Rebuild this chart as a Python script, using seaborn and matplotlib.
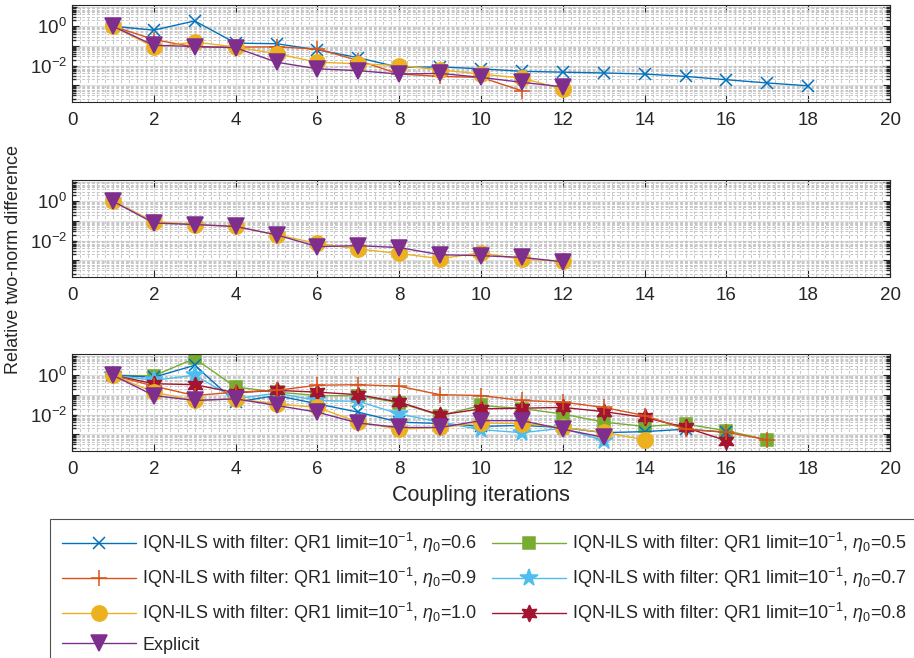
import matplotlib
matplotlib.use("Agg")
import matplotlib.pyplot as plt
import matplotlib.ticker as mticker
import numpy as np
import pandas as pd
import seaborn as sns

sns.set_theme(style="ticks")
plt.rcParams["font.family"] = ["Liberation Sans", "DejaVu Sans"]
plt.rcParams["mathtext.fontset"] = "custom"
plt.rcParams["mathtext.rm"] = "Liberation Sans"
plt.rcParams["mathtext.it"] = "Liberation Sans:italic"

# ---- data (relative two-norm difference per iteration) ----
top_eta06 = [1.0, 0.63, 1.86, 0.138, 0.129, 0.063, 0.025, 0.0081, 0.0085, 0.0068,
             0.0051, 0.0046, 0.0042, 0.0037, 0.0028, 0.0019, 0.0013, 0.00093]
top_eta09 = [1.0, 0.21, 0.087, 0.087, 0.089, 0.069, 0.018, 0.0037, 0.0028, 0.0025, 0.00052]
top_eta10 = [1.0, 0.087, 0.158, 0.087, 0.040, 0.0148, 0.0123, 0.010, 0.0060, 0.0037,
             0.0023, 0.00063]
top_explicit = [1.0, 0.107, 0.093, 0.081, 0.0148, 0.0068, 0.0055, 0.0037, 0.0040, 0.0025,
                0.0014, 0.00083]

mid_eta10 = [1.0, 0.093, 0.065, 0.052, 0.0195, 0.0072, 0.0037, 0.0022, 0.0012, 0.0024,
             0.0011, 0.00091]
mid_explicit = [1.0, 0.078, 0.065, 0.052, 0.0195, 0.0049, 0.0055, 0.0044, 0.0019, 0.0017,
                0.0014, 0.00083]

bot_eta05 = [1.0, 0.93, 7.1, 0.25, 0.138, 0.093, 0.089, 0.040, 0.0089, 0.029, 0.020,
             0.0107, 0.0041, 0.0025, 0.0033, 0.0015, 0.00052]
bot_eta06 = [1.0, 0.79, 3.2, 0.043, 0.093, 0.035, 0.0132, 0.0041, 0.0035, 0.0025, 0.0028,
             0.0022, 0.0012, 0.00135, 0.0018, 0.00126]
bot_eta07 = [1.0, 0.55, 1.0, 0.063, 0.123, 0.052, 0.047, 0.0107, 0.0041, 0.0017, 0.0012,
             0.0020, 0.00047]
bot_eta08 = [1.0, 0.37, 0.33, 0.129, 0.17, 0.138, 0.102, 0.043, 0.0095, 0.0195, 0.021,
             0.023, 0.0141, 0.0072, 0.0022, 0.00047]
bot_eta09 = [1.0, 0.28, 0.093, 0.138, 0.17, 0.31, 0.33, 0.275, 0.102, 0.093, 0.052, 0.043,
             0.023, 0.0089, 0.0018, 0.00126, 0.00052]
bot_eta10 = [1.0, 0.138, 0.052, 0.063, 0.035, 0.023, 0.0041, 0.0018, 0.0022, 0.0037,
             0.0035, 0.0022, 0.00126, 0.00052]
bot_explicit = [1.0, 0.093, 0.052, 0.063, 0.029, 0.0132, 0.0037, 0.0022, 0.0022, 0.0049,
                0.0049, 0.0018, 0.00069]

x_ticks = list(range(0, 21, 2))

QR = r"IQN-ILS with filter: QR1 limit=10$^{-1}$, $\eta_0$="
STYLE = {
    "0.5": dict(color="#77AC30", marker="s", markersize=9),
    "0.6": dict(color="#0072BD", marker="x", markersize=9),
    "0.7": dict(color="#4DBEEE", marker="*", markersize=13),
    "0.8": dict(color="#A2142F", marker=(6, 1, 0), markersize=12),
    "0.9": dict(color="#D95319", marker="+", markersize=11),
    "1.0": dict(color="#EDB120", marker="o", markersize=11),
    "explicit": dict(color="#7E2F8E", marker="v", markersize=11),
}
LABELS = {k: (QR + k if k != "explicit" else "Explicit") for k in STYLE}

panels = [
    [("0.6", top_eta06), ("0.9", top_eta09), ("1.0", top_eta10), ("explicit", top_explicit)],
    [("1.0", mid_eta10), ("explicit", mid_explicit)],
    [("0.5", bot_eta05), ("0.6", bot_eta06), ("0.7", bot_eta07), ("0.8", bot_eta08),
     ("0.9", bot_eta09), ("1.0", bot_eta10), ("explicit", bot_explicit)],
]

fig = plt.figure(figsize=(9.14, 6.58), dpi=100)
left, width, height = 72 / 914, 818 / 914, 97 / 658
bottoms = [1 - 102 / 658, 1 - 277 / 658, 1 - 451 / 658]
axes = [fig.add_axes([left, b, width, height]) for b in bottoms]

for ax, series in zip(axes, panels):
    for key, vals in series:
        st = STYLE[key]
        df = pd.DataFrame({"it": np.arange(1, len(vals) + 1), "res": vals})
        sns.lineplot(data=df, x="it", y="res", ax=ax, label=LABELS[key], legend=False,
                     color=st["color"], marker=st["marker"], markersize=st["markersize"],
                     markeredgecolor=st["color"], markerfacecolor=st["color"],
                     markeredgewidth=1.1, linewidth=1.0)
    ax.set_yscale("log")
    ax.set_xlim(0, 20)
    ax.set_ylim(1.4e-4, 1.2e1)
    ax.set_xticks(x_ticks)
    ax.xaxis.set_minor_locator(mticker.MultipleLocator(0.2))
    ax.yaxis.set_major_locator(mticker.FixedLocator([1e-4, 1e-3, 1e-2, 1e-1, 1e0, 1e1]))
    ax.yaxis.set_major_formatter(mticker.FixedFormatter(
        ["", "", r"$10^{-2}$", "", r"$10^{0}$", ""]))
    ax.yaxis.set_minor_locator(mticker.LogLocator(base=10, subs=np.arange(2, 10), numticks=20))
    ax.yaxis.set_minor_formatter(mticker.NullFormatter())
    ax.grid(True, which="major", color="#dedede", linewidth=0.8, linestyle="-")
    ax.grid(True, which="minor", color="#c6c6c6", linewidth=0.7, linestyle=(0, (3, 2)))
    ax.set_axisbelow(True)
    ax.tick_params(which="both", direction="in", top=True, right=True, colors="#262626",
                   labelsize=13.5)
    ax.tick_params(axis="x", which="minor", length=0)
    ax.tick_params(axis="x", which="major", pad=7)
    ax.tick_params(axis="y", which="minor", length=3)
    ax.tick_params(which="major", length=5, width=0.8)
    for sp in ax.spines.values():
        sp.set_color("#262626")
        sp.set_linewidth(0.8)
    ax.set_xlabel("")
    ax.set_ylabel("")

axes[2].set_xlabel("Coupling iterations", fontsize=15.5, color="#262626", labelpad=5)
fig.text(14 / 914, 1 - 260 / 658, "Relative two-norm difference", rotation=90,
         ha="center", va="center", fontsize=13, color="#262626")

handles, labels = axes[2].get_legend_handles_labels()
order = ["0.6", "0.9", "1.0", "explicit", "0.5", "0.7", "0.8"]
hmap = dict(zip(labels, handles))
leg = fig.legend([hmap[LABELS[k]] for k in order], [LABELS[k] for k in order],
                 ncol=2, loc="upper left", bbox_to_anchor=(50 / 914, 1 - 519 / 658),
                 frameon=True, fancybox=False, edgecolor="#262626", fontsize=13,
                 handlelength=4.1, columnspacing=0.8, labelspacing=0.62,
                 borderpad=0.65, handletextpad=0.35, borderaxespad=0)
leg.get_frame().set_linewidth(0.8)

fig.savefig("out.png", dpi=100)
